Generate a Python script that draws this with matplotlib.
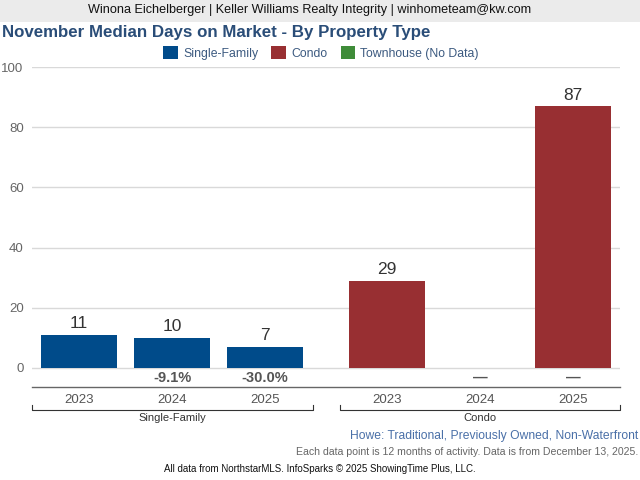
import matplotlib.pyplot as plt
from matplotlib.patches import Rectangle
from matplotlib.lines import Line2D
import matplotlib.transforms as mtransforms

plt.rcParams['font.family'] = ['Liberation Sans', 'DejaVu Sans']

years = ["2023", "2024", "2025"]
groups = ["Single-Family", "Condo"]
sf_values = [11, 10, 7]
condo_values = [29, None, 87]
sf_changes = ["", "-9.1%", "-30.0%"]
condo_changes = ["", "—", "—"]
legend_labels = ["Single-Family", "Condo", "Townhouse (No Data)"]

blue = "#004b8a"
red = "#982f32"
green = "#3f8c39"

fig = plt.figure(figsize=(6.4, 4.8), dpi=100)
ax = fig.add_axes([0.05, 0.194, 0.919, 0.666])

gap = 0.31
sf_x = [0, 1, 2]
condo_x = [3 + gap, 4 + gap, 5 + gap]
w = 0.82

ax.bar(sf_x, sf_values, width=w, color=blue, zorder=3)
cx = [x for x, v in zip(condo_x, condo_values) if v is not None]
cv = [v for v in condo_values if v is not None]
ax.bar(cx, cv, width=w, color=red, zorder=3)

for x, v in zip(sf_x, sf_values):
    ax.text(x, v + 1.2, str(v), ha="center", va="bottom", fontsize=12.5, color="#333333")
for x, v in zip(cx, cv):
    ax.text(x, v + 1.2, str(v), ha="center", va="bottom", fontsize=12.5, color="#333333")

for x, c in zip(sf_x + condo_x, sf_changes + condo_changes):
    if c:
        ax.text(x, -3.3, c, ha="center", va="center", fontsize=10.5,
                fontweight="bold", color="#555555")

ax.set_xlim(-0.505, 5.31 + 0.505)
ax.set_ylim(-6.3, 100)
ax.set_yticks([0, 20, 40, 60, 80, 100])
ax.yaxis.grid(True, color="#d9d9d9", linewidth=1, zorder=0)
ax.set_xticks(sf_x + condo_x, years + years)
ax.tick_params(axis="x", length=0, pad=5, labelsize=9.5, labelcolor="#555555")
ax.tick_params(axis="y", length=0, pad=6, labelsize=9.5, labelcolor="#666666")
for s in ["top", "right", "left"]:
    ax.spines[s].set_visible(False)
ax.spines["bottom"].set_color("#666666")
ax.spines["bottom"].set_linewidth(1)

trans = mtransforms.blended_transform_factory(ax.transData, ax.transAxes)
spans = [(-0.505, 2.516), (2.807, 5.817)]
for (a, b), g in zip(spans, groups):
    yb, yt = -0.072, -0.058
    ax.add_line(Line2D([a, a, b, b], [yt, yb, yb, yt], transform=trans,
                       color="#333333", linewidth=0.8, clip_on=False))
    ax.text((a + b) / 2, -0.096, g, transform=trans, ha="center", va="center",
            fontsize=8, color="#333333")

# banner
fig.patches.append(Rectangle((0, 1 - 22 / 480), 1, 22 / 480, transform=fig.transFigure,
                             facecolor="#ebebeb", edgecolor="none", zorder=0))
fig.text(310 / 640, 1 - 10.5 / 480,
         "Winona Eichelberger | Keller Williams Realty Integrity | winhometeam@kw.com",
         ha="center", va="center", fontsize=9.1, color="#111111")

fig.text(2 / 640, 1 - 33 / 480, "November Median Days on Market - By Property Type",
         ha="left", va="center", fontsize=12.2, fontweight="bold", color="#2a4d78")

handles = [Rectangle((0, 0), 1, 1, facecolor=c, edgecolor="none") for c in [blue, red, green]]
leg = fig.legend(handles, legend_labels, loc="center", bbox_to_anchor=(321 / 640, 1 - 53 / 480),
                 ncol=3, frameon=False, fontsize=8.8, handlelength=1.2, handleheight=1.2,
                 handletextpad=0.4, columnspacing=1.1, borderaxespad=0)
for t in leg.get_texts():
    t.set_color("#3c5a80")

fig.text(638 / 640, 1 - 436 / 480, "Howe: Traditional, Previously Owned, Non-Waterfront",
         ha="right", va="center", fontsize=8.7, color="#4a70a8")
fig.text(638 / 640, 1 - 452 / 480,
         "Each data point is 12 months of activity. Data is from December 13, 2025.",
         ha="right", va="center", fontsize=7.6, color="#666666")
fig.text(0.5, 1 - 469 / 480, "All data from NorthstarMLS. InfoSparks © 2025 ShowingTime Plus, LLC.",
         ha="center", va="center", fontsize=7, color="#111111")

fig.savefig("out.png", dpi=100)
